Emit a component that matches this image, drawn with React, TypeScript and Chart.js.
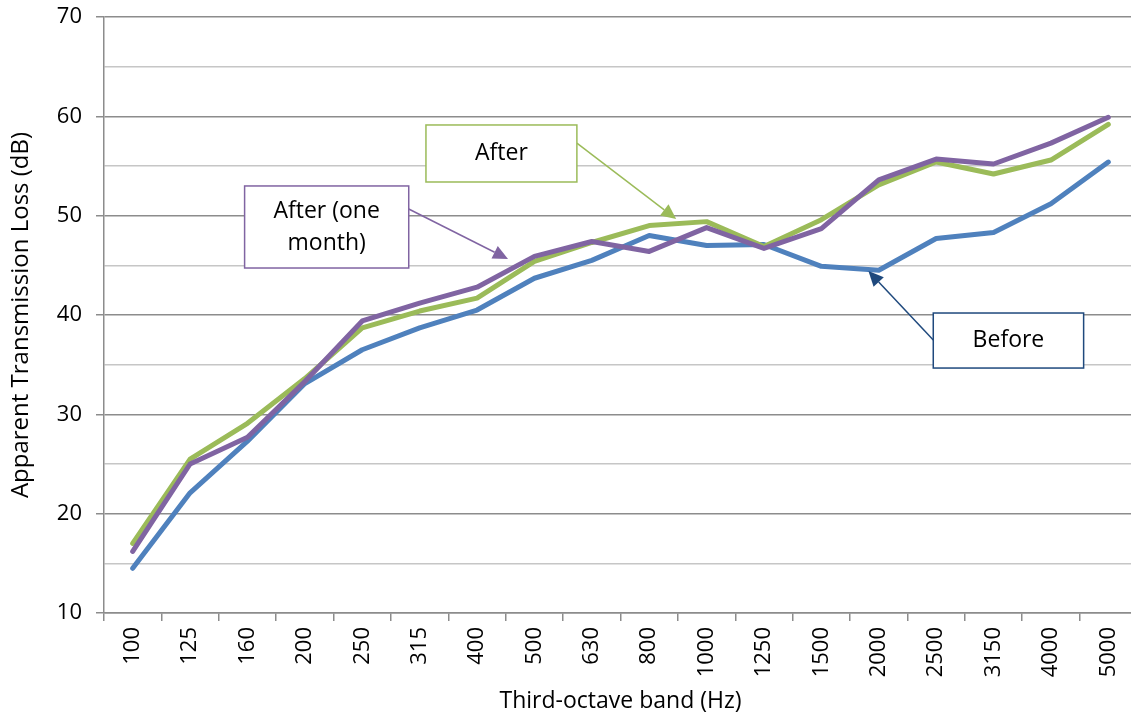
import React, { useEffect, useRef } from "react";
import { Chart, registerables } from "chart.js";

Chart.register(...registerables);

const bands = ["100", "125", "160", "200", "250", "315", "400", "500", "630", "800", "1000", "1250", "1500", "2000", "2500", "3150", "4000", "5000"];
const before = [14.5, 22.1, 27.3, 33.1, 36.5, 38.7, 40.5, 43.7, 45.5, 48.0, 47.0, 47.1, 44.9, 44.5, 47.7, 48.3, 51.2, 55.4];
const after = [17.0, 25.5, 29.1, 33.6, 38.7, 40.4, 41.7, 45.4, 47.3, 49.0, 49.4, 46.9, 49.6, 53.1, 55.4, 54.2, 55.6, 59.2];
const afterOneMonth = [16.2, 25.0, 27.7, 33.3, 39.4, 41.2, 42.8, 45.9, 47.4, 46.4, 48.8, 46.7, 48.7, 53.6, 55.7, 55.2, 57.3, 59.9];

const seriesNames = ["Before", "After", "After (one month)"];
const seriesColors = ["#4F81BD", "#9BBB59", "#8064A2"];

const yMin = 10;
const yMax = 70;
const yStep = 5;

const xTitle = "Third-octave band (Hz)";
const yTitle = "Apparent Transmission Loss (dB)";

// Callout boxes, in axis units (category index, dB)
const callouts = [
  { lines: ["After"], border: "#9BBB59", arrow: "#9BBB59", box: [5.11, 59.13, 7.74, 53.39], from: [7.74, 57.3], to: [9.47, 49.66] },
  { lines: ["After (one", "month)"], border: "#8064A2", arrow: "#8064A2", box: [1.95, 52.99, 4.81, 44.73], from: [4.81, 50.67], to: [6.54, 45.64] },
  { lines: ["Before"], border: "#1F497D", arrow: "#1F497D", box: [13.95, 40.2, 16.57, 34.66], from: [13.95, 37.48], to: [12.82, 44.43] },
];

const FONT = "'Open Sans', 'Noto Sans', sans-serif";

const calloutPlugin = {
  id: "callouts",
  afterDatasetsDraw(chart: any) {
    const { ctx, scales } = chart;
    const xs = scales.x;
    const ys = scales.y;
    ctx.save();
    for (const c of callouts) {
      const x1 = xs.getPixelForValue(c.box[0]);
      const y1 = ys.getPixelForValue(c.box[1]);
      const x2 = xs.getPixelForValue(c.box[2]);
      const y2 = ys.getPixelForValue(c.box[3]);
      const fx = xs.getPixelForValue(c.from[0]);
      const fy = ys.getPixelForValue(c.from[1]);
      const tx = xs.getPixelForValue(c.to[0]);
      const ty = ys.getPixelForValue(c.to[1]);
      const ang = Math.atan2(ty - fy, tx - fx);
      const headLen = 15;
      const headW = 7;
      const bx = tx - headLen * Math.cos(ang);
      const by = ty - headLen * Math.sin(ang);
      ctx.strokeStyle = c.arrow;
      ctx.fillStyle = c.arrow;
      ctx.lineWidth = 1.5;
      ctx.beginPath();
      ctx.moveTo(fx, fy);
      ctx.lineTo(bx, by);
      ctx.stroke();
      ctx.beginPath();
      ctx.moveTo(tx, ty);
      ctx.lineTo(bx + headW * Math.sin(ang), by - headW * Math.cos(ang));
      ctx.lineTo(bx - headW * Math.sin(ang), by + headW * Math.cos(ang));
      ctx.closePath();
      ctx.fill();
      ctx.fillStyle = "#FFFFFF";
      ctx.fillRect(x1, y1, x2 - x1, y2 - y1);
      ctx.strokeStyle = c.border;
      ctx.lineWidth = 1.5;
      ctx.strokeRect(x1, y1, x2 - x1, y2 - y1);
      ctx.fillStyle = "#000000";
      ctx.font = `23px ${FONT}`;
      ctx.textAlign = "center";
      ctx.textBaseline = "middle";
      const lh = 32;
      const cx = (x1 + x2) / 2;
      const cy = (y1 + y2) / 2;
      c.lines.forEach((t, i) => {
        ctx.fillText(t, cx, cy + (i - (c.lines.length - 1) / 2) * lh);
      });
    }
    ctx.restore();
  },
};

export default function App() {
  const ref = useRef<HTMLCanvasElement | null>(null);
  useEffect(() => {
    if (!ref.current) return;
    const data = [before, after, afterOneMonth];
    const chart = new Chart(ref.current, {
      type: "line",
      data: {
        labels: bands,
        datasets: data.map((d, i) => ({
          label: seriesNames[i],
          data: d,
          borderColor: seriesColors[i],
          backgroundColor: seriesColors[i],
          borderWidth: 5,
          pointRadius: 0,
          tension: 0,
          borderJoinStyle: "round" as const,
          borderCapStyle: "round" as const,
          order: 3 - i,
        })),
      },
      options: {
        responsive: false,
        animation: false,
        layout: { padding: { top: 17, right: 3, left: 0, bottom: 0 } },
        plugins: { legend: { display: false }, tooltip: { enabled: false }, title: { display: false } },
        scales: {
          x: {
            type: "category",
            offset: true,
            afterFit: (s: any) => { s.height = 104; s.paddingLeft = 0; s.paddingRight = 0; },
            grid: { display: true, drawOnChartArea: false, offset: true, tickLength: 8, color: "#8C8C8C", lineWidth: 1.5 },
            border: { color: "#8C8C8C", width: 1.5 },
            ticks: { minRotation: 90, maxRotation: 90, padding: 6, color: "#000000", font: { family: FONT, size: 22 }, autoSkip: false },
            title: { display: true, text: xTitle, color: "#000000", font: { family: FONT, size: 23 }, padding: { top: 0, bottom: 2 } },
          },
          y: {
            min: yMin,
            max: yMax,
            afterFit: (s: any) => { s.width = 104; s.paddingTop = 0; s.paddingBottom = 0; },
            ticks: {
              stepSize: yStep,
              padding: 14,
              color: "#000000",
              font: { family: FONT, size: 22 },
              callback: (v: any) => (Number(v) % 10 === 0 ? String(v) : ""),
            },
            grid: {
              tickLength: 8,
              lineWidth: 1.5,
              color: (c: any) => (c.tick && c.tick.value % 10 === 0 ? "#8C8C8C" : "#C6C6C6"),
              tickColor: (c: any) => (c.tick && c.tick.value % 10 === 0 ? "#8C8C8C" : "rgba(0,0,0,0)"),
            },
            border: { color: "#8C8C8C", width: 1.5 },
            title: { display: true, text: yTitle, color: "#000000", font: { family: FONT, size: 24 }, padding: { top: 7, bottom: 0 } },
          },
        },
      },
      plugins: [calloutPlugin],
    });
    return () => chart.destroy();
  }, []);
  return (
    <div style={{ position: "absolute", left: 0, top: 0, width: 1131, height: 717, overflow: "hidden", background: "#fff" }}>
      <canvas ref={ref} width={1140} height={717} style={{ display: "block" }} />
    </div>
  );
}
